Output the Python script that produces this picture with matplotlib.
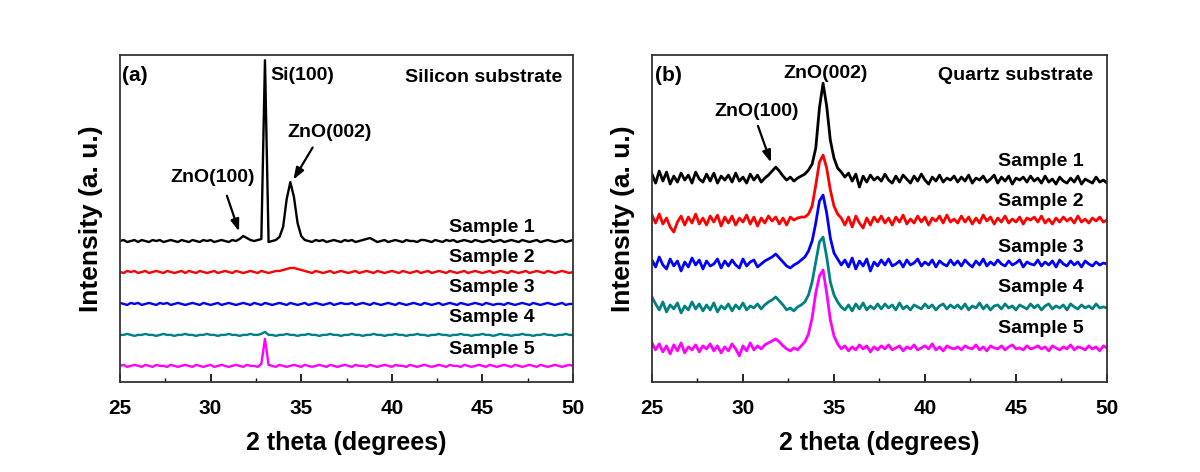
import numpy as np
import matplotlib
matplotlib.use("Agg")
import matplotlib.pyplot as plt

# 2 theta grid (degrees), 0.2 deg step
two_theta = np.round(np.arange(25.0, 50.0001, 0.2), 1)

samples = ["Sample 1", "Sample 2", "Sample 3", "Sample 4", "Sample 5"]
colors = ["#000000", "#ff0000", "#0000ff", "#008080", "#ff00ff"]

# (a) silicon substrate, intensity (a.u.)
si_s1 = [0, 1, -1, 0, 1, -1, 1, 0, -1, 1, 0, 1, -1, 0, 1, 0, -1, 1, 0, -1, 1,
         0, -1, 1, 0, 1, -1, 0, 1, 0, -1, 1, 0, 2, 5, 3, 1, 0, 1, 2, 181, -1,
         0, 1, 4, 14, 42, 59, 44, 18, 5, 1, 0, -1, 1, 0, 1, -1, 0, 1, 0, -1, 1,
         0, 1, -1, 0, 1, 2, 3, 1, -1, 0, 1, -1, 0, 1, 0, -1, 1, 0, 0, -1, 1,
         1, 0, -1, 1, 0, -1, 1, 0, 1, -1, 0, 1, 0, -1, 1, 0, -1, 0, 1, -1, 0,
         1, -1, 0, 1, 0, -1, 1, 0, -1, 0, 1, -1, 0, 1, 0, -1, 0, 1, -1, 0, 1]
si_s2 = [0, -1, 1, 0, 1, -1, 0, 1, -1, 0, 1, 0, -1, 1, 0, -1, 0, 1, -1, 1, 0,
         -1, 1, 0, -1, 0, 1, -1, 0, 1, 0, -1, 1, 0, -1, 0, 1, 0, -1, 1, 0, -1,
         0, 1, 1, 2, 3, 4, 4, 3, 2, 1, 0, -1, 1, 0, -1, 0, 1, -1, 0, 1, 0,
         -1, 0, 1, -1, 0, 1, 0, -1, 1, 0, -1, 0, 1, 0, -1, 1, 0, -1, 0, 1, -1,
         0, 1, -1, 0, 1, 0, -1, 1, 0, -1, 0, 1, -1, 0, 1, 0, -1, 0, 1, -1, 0,
         1, 0, -1, 1, 0, -1, 0, 1, -1, 0, 1, 0, -1, 1, 0, -1, 0, 1, 0, -1, 0]
si_s3 = [1, 0, -1, 1, 0, 1, -1, 0, 1, 0, -1, 1, 0, 1, -1, 0, 1, 0, -1, 0, 1,
         0, -1, 1, 0, -1, 0, 1, -1, 0, 1, 0, -1, 0, 1, 0, -1, 1, 0, -1, 1, 0,
         -1, 0, 1, 0, -1, 1, 0, -1, 0, 1, -1, 0, 1, 0, -1, 0, 1, -1, 0, 1, 0,
         0, 1, -1, 0, 1, 0, -1, 1, 0, -1, 0, 1, 0, -1, 1, 0, -1, 0, 1, 0, -1,
         1, 0, -1, 0, 1, -1, 0, 1, 0, -1, 1, 0, -1, 0, 1, 0, -1, 1, 0, -1, 0,
         0, -1, 1, 0, -1, 0, 1, 0, -1, 1, 0, -1, 0, 1, 0, -1, 0, 1, -1, 0, 0]
si_s4 = [0, 0, 1, 0, -1, 0, 0, 1, 0, 0, -1, 0, 1, 0, 0, -1, 0, 0, 1, 0, 0,
         -1, 0, 0, 1, 0, 0, -1, 0, 0, 1, 0, 0, -1, 0, 0, 1, 0, 0, 1, 3, 0,
         0, -1, 0, 0, 1, 0, 0, -1, 0, 0, 1, 0, 0, -1, 0, 0, 1, 0, 0, -1, 0,
         0, 1, 0, 0, -1, 0, 0, 1, 0, 0, -1, 0, 0, 1, 0, 0, -1, 0, 0, 1, 0,
         0, -1, 0, 0, 1, 0, 0, -1, 0, 0, 1, 0, 0, -1, 0, 0, 1, 0, 0, -1, 0,
         1, 0, 0, -1, 0, 0, 1, 0, 0, -1, 0, 0, 1, 0, 0, -1, 0, 0, 1, 0, 0]
si_s5 = [0, 1, -1, 0, 1, 0, -1, 1, 0, -1, 1, 0, 0, -1, 1, 0, -1, 0, 1, 0, -1,
         1, 0, -1, 0, 1, -1, 0, 1, 0, -1, 0, 1, 0, -1, 1, 0, 0, -1, 2, 27, 1,
         0, -1, 1, 0, -1, 0, 1, 0, -1, 1, 0, -1, 0, 1, 0, -1, 1, 0, -1, 0, 1,
         0, -1, 1, 0, 0, -1, 1, 0, -1, 0, 1, 0, -1, 1, 0, 0, -1, 1, 0, -1, 0,
         1, 0, -1, 0, 1, 0, -1, 1, 0, 0, -1, 1, 0, -1, 0, 1, 0, -1, 1, 0, -1,
         0, 1, 0, -1, 1, 0, -1, 0, 1, 0, -1, 1, 0, -1, 0, 1, 0, -1, 0, 1, 0]

# (b) quartz substrate
qz_s1 = [4, -5, 7, -3, 6, -6, 2, -4, 5, -2, 3, -5, 6, -1, -4, 4, -3, 5, -5, 2, -2,
         3, -4, 5, -3, 1, -5, 4, -2, 3, -4, 0, 3, 7, 11, 7, 2, -2, 1, -3, 0, 2,
         4, 8, 14, 30, 70, 95, 72, 38, 20, 10, 6, 1, 5, -3, 4, -9, 2, -4, 3, -2, 1,
         -3, 4, -2, -5, 2, -4, 3, -1, -5, 2, -3, 4, -2, -6, 1, -3, 3, -4, 0, -2, 2,
         -4, 1, -3, 3, -5, 0, -2, 2, -4, -1, 3, -5, 1, -3, 2, -6, 0, -2, 1, -4, 2,
         -3, 0, -5, 2, -4, -1, -6, 1, -3, -5, 0, -4, 2, -6, -1, -3, -5, 1, -4, -2, -5]
qz_s2 = [5, -3, 6, -4, 2, -7, -12, -2, 4, -5, 3, -3, 6, -4, 2, -5, 4, -2, 5, -6, 3,
         -3, 4, -5, 2, -2, 5, -4, 3, -6, 2, -3, 4, -1, 3, -4, 2, -5, 3, 0, 2, 3,
         3, 6, 14, 35, 58, 65, 52, 30, 14, 6, 2, -5, 3, -7, 4, -3, -8, 2, -5, 3, -2,
         4, -3, 2, -5, 3, -2, 5, -4, 1, -3, 4, -2, 3, -5, 2, -1, 4, -3, 5, -2, 1,
         -3, 4, -2, 3, -4, 2, -3, 5, -1, 3, -4, 2, -2, 4, -3, 1, -2, 3, -4, 2, 0,
         3, -2, 4, -3, 1, -4, 2, -2, 3, -1, 2, -3, 4, -2, 1, -3, 2, -1, 3, -2, 0]
qz_s3 = [3, -4, 6, -2, -6, 4, -3, 2, -8, 1, -4, 5, -2, 3, -6, 2, -3, -1, 4, -5, 2,
         -3, 3, -2, -5, 4, -3, 1, 3, -4, -1, 2, 4, 6, 9, 5, 1, -3, -5, -2, 0, 3,
         6, 12, 22, 40, 62, 68, 50, 25, 10, 4, -2, 3, -4, 5, -6, 2, -3, 4, -8, 1, -3,
         3, -2, 4, -3, -1, 2, -4, 3, -2, 0, 4, -3, 1, -2, 3, -4, 2, -1, -3, 3, -2,
         2, -3, 3, -1, -4, 2, -2, 4, -3, 1, -2, 3, -1, -3, 2, -2, 0, 3, -4, 1, -1,
         -2, 3, -3, 1, -2, 2, -4, 3, -1, -3, 2, -2, 1, -4, 2, -1, -3, 1, -2, 0, -1]
qz_s4 = [10, 3, -3, 5, -5, 2, -2, 4, -6, 1, -3, 5, -2, 3, -4, 2, -3, 4, -5, 1, -2,
         3, -4, 2, -2, 4, -3, 1, -1, 3, -2, 2, 5, 7, 10, 6, 2, -3, -1, -4, 0, 2,
         5, 12, 25, 45, 65, 70, 50, 25, 12, 5, 0, -3, 2, -4, 3, -2, 4, -3, 1, -2, 3,
         -2, 3, -1, 2, -3, 4, -2, 1, -3, 2, 0, -2, 3, -1, 2, -3, 1, 3, -2, 2, -1,
         2, -2, 3, -3, 1, -1, 4, -2, 2, -3, 1, 2, -2, 3, -1, 1, -3, 2, 0, -2, 3,
         -1, 2, -3, 1, 3, -2, 1, -1, 2, -3, 3, 0, -2, 2, -1, 1, -2, 3, -1, 0, -1]
qz_s5 = [5, -2, 4, -4, 2, -6, 3, -3, 5, -5, 1, -2, 3, -4, 2, -1, 4, -3, 2, -5, 1,
         -3, 4, -1, -8, 2, -3, 5, -2, 2, -1, 3, 5, 7, 9, 6, 2, -1, -3, 0, -2, 2,
         6, 14, 30, 55, 72, 78, 55, 28, 12, 4, -1, 2, -3, 1, -2, 3, -1, 2, -4, 1, -2,
         2, -1, 3, -2, 0, 2, -3, 1, -1, 3, -2, 0, 2, -1, 4, -2, 1, -3, 2, 0, -1,
         1, -2, 2, 0, -1, 3, -2, 1, -3, 2, 0, -1, 2, -2, 1, 3, -1, 0, -2, 2, -1,
         0, 2, -1, 1, -3, 2, 0, -2, 1, -1, 3, -2, 1, 0, -2, 2, -1, 1, -3, 2, 0]

si_traces = [si_s1, si_s2, si_s3, si_s4, si_s5]
qz_traces = [qz_s1, qz_s2, qz_s3, qz_s4, qz_s5]

# vertical stacking of the curves
si_offsets = [141, 110, 78, 47, 16]
qz_offsets = [204, 162, 119, 75, 34]

bold = dict(fontweight="bold", family=["Liberation Sans", "DejaVu Sans"])

fig = plt.figure(figsize=(12, 4.72), dpi=100)
ax_a = fig.add_axes([0.1, 0.191, 0.3775, 0.692])
ax_b = fig.add_axes([0.5433, 0.191, 0.3792, 0.692])


def style_axes(ax):
    ax.set_xlim(25, 50)
    ax.set_ylim(0, 327)
    ax.set_xticks([25, 30, 35, 40, 45, 50])
    ax.set_xticks(np.arange(27.5, 50, 5), minor=True)
    ax.set_yticks([])
    ax.tick_params(axis="x", which="major", direction="in", length=6, width=1.2,
                   pad=12)
    ax.tick_params(axis="x", which="minor", direction="in", length=3, width=1.0)
    for lab in ax.get_xticklabels():
        lab.set_fontsize(15)
        lab.set_fontweight("bold")
        lab.set_family(bold["family"])
    for sp in ax.spines.values():
        sp.set_linewidth(1.3)
        sp.set_color("#333333")
    ax.set_xlabel("2 theta (degrees)", fontsize=18, labelpad=10, **bold)
    ax.set_ylabel("Intensity (a. u.)", fontsize=19, labelpad=12, **bold)


for ax, traces, offs, lw in [(ax_a, si_traces, si_offsets, 1.7),
                             (ax_b, qz_traces, qz_offsets, 2.0)]:
    for tr, off, c in zip(traces, offs, colors):
        ax.plot(two_theta, np.array(tr) + off, color=c, lw=lw)
    style_axes(ax)

arrow = dict(arrowstyle="-|>,head_length=0.7,head_width=0.25", color="black", lw=1.6)

fs = 14
# panel (a) labels
ax_a.text(25.1, 307, "(a)", fontsize=15, va="center", ha="left", **bold)
ax_a.text(33.28, 307, "Si(100)", fontsize=fs, va="center", ha="left", **bold)
ax_a.text(49.4, 305, "Silicon substrate", fontsize=fs, va="center", ha="right", **bold)
ax_a.text(36.59, 250, "ZnO(002)", fontsize=fs, va="center", ha="center", **bold)
ax_a.annotate("", xy=(34.49, 200), xytext=(35.71, 237), arrowprops=arrow)
ax_a.text(30.13, 205, "ZnO(100)", fontsize=fs, va="center", ha="center", **bold)
ax_a.annotate("", xy=(31.62, 148), xytext=(30.85, 189), arrowprops=arrow)
for name, y in zip(samples, [155, 124, 94, 64, 32]):
    ax_a.text(43.16, y, name, fontsize=fs, va="center", ha="left", **bold)

# panel (b) labels
ax_b.text(25.15, 307, "(b)", fontsize=15, va="center", ha="left", **bold)
ax_b.text(34.56, 309, "ZnO(002)", fontsize=fs, va="center", ha="center", **bold)
ax_b.text(49.23, 307, "Quartz substrate", fontsize=fs, va="center", ha="right", **bold)
ax_b.text(30.77, 271, "ZnO(100)", fontsize=fs, va="center", ha="center", **bold)
ax_b.annotate("", xy=(31.59, 217), xytext=(30.77, 259), arrowprops=arrow)
for name, y in zip(samples, [221, 181, 135, 94, 53]):
    ax_b.text(44.01, y, name, fontsize=fs, va="center", ha="left", **bold)

fig.savefig("out.png", dpi=100)
